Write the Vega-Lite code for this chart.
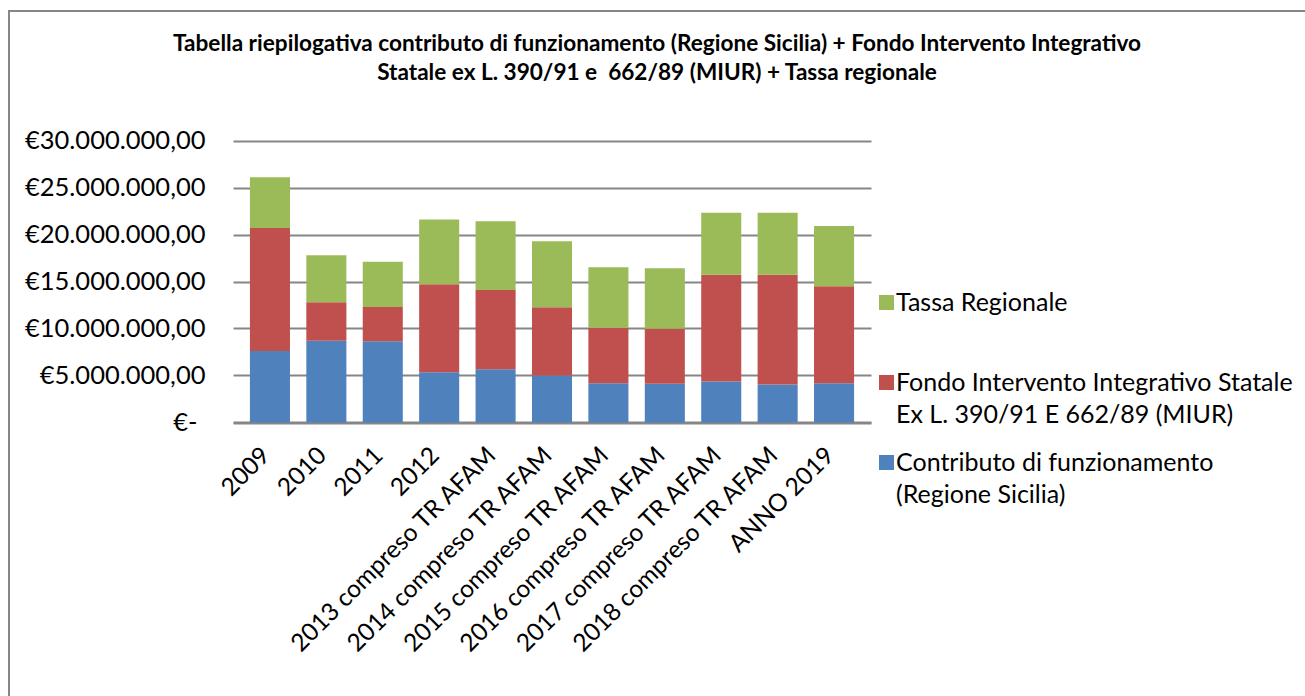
{
  "$schema": "https://vega.github.io/schema/vega-lite/v6.json",
  "width": 1296,
  "height": 685,
  "autosize": {"type": "none"},
  "padding": {"left": 9, "top": 11, "right": 0, "bottom": 0},
  "background": "white",
  "config": {
    "locale": {"number": {"decimal": ",", "thousands": ".", "grouping": [3], "currency": ["€", ""]}},
    "view": {"stroke": "#868686", "strokeWidth": 2, "strokeDash": [1296, 1981, 685]},
    "font": "Lato",
    "style": {"guide-label": {"lineHeight": 32}}
  },
  "title": {
    "text": ["Tabella riepilogativa contributo di funzionamento (Regione Sicilia) + Fondo Intervento Integrativo", "Statale ex L. 390/91 e \u00a0662/89 (MIUR) + Tassa regionale"],
    "anchor": "middle",
    "frame": "group",
    "font": "Lato",
    "fontSize": 22.6,
    "fontWeight": "bold",
    "color": "#000000",
    "lineHeight": 29,
    "offset": -74
  },
  "data": {
    "values": [
      {"anno": "2009", "serie": "Contributo di funzionamento (Regione Sicilia)", "valore": 7600000},
      {"anno": "2009", "serie": "Fondo Intervento Integrativo Statale Ex L. 390/91 E 662/89 (MIUR)", "valore": 13100000},
      {"anno": "2009", "serie": "Tassa Regionale", "valore": 5400000},
      {"anno": "2010", "serie": "Contributo di funzionamento (Regione Sicilia)", "valore": 8700000},
      {"anno": "2010", "serie": "Fondo Intervento Integrativo Statale Ex L. 390/91 E 662/89 (MIUR)", "valore": 4100000},
      {"anno": "2010", "serie": "Tassa Regionale", "valore": 5000000},
      {"anno": "2011", "serie": "Contributo di funzionamento (Regione Sicilia)", "valore": 8650000},
      {"anno": "2011", "serie": "Fondo Intervento Integrativo Statale Ex L. 390/91 E 662/89 (MIUR)", "valore": 3650000},
      {"anno": "2011", "serie": "Tassa Regionale", "valore": 4800000},
      {"anno": "2012", "serie": "Contributo di funzionamento (Regione Sicilia)", "valore": 5350000},
      {"anno": "2012", "serie": "Fondo Intervento Integrativo Statale Ex L. 390/91 E 662/89 (MIUR)", "valore": 9350000},
      {"anno": "2012", "serie": "Tassa Regionale", "valore": 6900000},
      {"anno": "2013 compreso TR AFAM", "serie": "Contributo di funzionamento (Regione Sicilia)", "valore": 5670000},
      {"anno": "2013 compreso TR AFAM", "serie": "Fondo Intervento Integrativo Statale Ex L. 390/91 E 662/89 (MIUR)", "valore": 8430000},
      {"anno": "2013 compreso TR AFAM", "serie": "Tassa Regionale", "valore": 7300000},
      {"anno": "2014 compreso TR AFAM", "serie": "Contributo di funzionamento (Regione Sicilia)", "valore": 5000000},
      {"anno": "2014 compreso TR AFAM", "serie": "Fondo Intervento Integrativo Statale Ex L. 390/91 E 662/89 (MIUR)", "valore": 7270000},
      {"anno": "2014 compreso TR AFAM", "serie": "Tassa Regionale", "valore": 7000000},
      {"anno": "2015 compreso TR AFAM", "serie": "Contributo di funzionamento (Regione Sicilia)", "valore": 4180000},
      {"anno": "2015 compreso TR AFAM", "serie": "Fondo Intervento Integrativo Statale Ex L. 390/91 E 662/89 (MIUR)", "valore": 5890000},
      {"anno": "2015 compreso TR AFAM", "serie": "Tassa Regionale", "valore": 6450000},
      {"anno": "2016 compreso TR AFAM", "serie": "Contributo di funzionamento (Regione Sicilia)", "valore": 4120000},
      {"anno": "2016 compreso TR AFAM", "serie": "Fondo Intervento Integrativo Statale Ex L. 390/91 E 662/89 (MIUR)", "valore": 5850000},
      {"anno": "2016 compreso TR AFAM", "serie": "Tassa Regionale", "valore": 6450000},
      {"anno": "2017 compreso TR AFAM", "serie": "Contributo di funzionamento (Regione Sicilia)", "valore": 4360000},
      {"anno": "2017 compreso TR AFAM", "serie": "Fondo Intervento Integrativo Statale Ex L. 390/91 E 662/89 (MIUR)", "valore": 11350000},
      {"anno": "2017 compreso TR AFAM", "serie": "Tassa Regionale", "valore": 6600000},
      {"anno": "2018 compreso TR AFAM", "serie": "Contributo di funzionamento (Regione Sicilia)", "valore": 4040000},
      {"anno": "2018 compreso TR AFAM", "serie": "Fondo Intervento Integrativo Statale Ex L. 390/91 E 662/89 (MIUR)", "valore": 11670000},
      {"anno": "2018 compreso TR AFAM", "serie": "Tassa Regionale", "valore": 6600000},
      {"anno": "ANNO 2019", "serie": "Contributo di funzionamento (Regione Sicilia)", "valore": 4180000},
      {"anno": "ANNO 2019", "serie": "Fondo Intervento Integrativo Statale Ex L. 390/91 E 662/89 (MIUR)", "valore": 10320000},
      {"anno": "ANNO 2019", "serie": "Tassa Regionale", "valore": 6400000}
    ]
  },
  "mark": {"type": "bar"},
  "encoding": {
    "x": {
      "field": "anno",
      "type": "nominal",
      "sort": null,
      "scale": {"range": [224, 862], "paddingInner": 0.29, "paddingOuter": 0.3},
      "axis": {
        "title": null,
        "offset": -273,
        "labelAngle": -45,
        "labelFont": "Lato",
        "labelFontSize": 24.5,
        "labelColor": "#000000",
        "labelPadding": 20,
        "labelOffset": -12,
        "labelLimit": 400,
        "ticks": false,
        "domain": true,
        "domainColor": "#868686",
        "domainWidth": 2,
        "grid": false
      }
    },
    "y": {
      "field": "valore",
      "type": "quantitative",
      "stack": "zero",
      "scale": {"domain": [-29095745, 43776596], "nice": false, "zero": false},
      "axis": {
        "title": null,
        "values": [0, 5000000, 10000000, 15000000, 20000000, 25000000, 30000000],
        "format": "$,.2f",
        "labelExpr": "datum.value == 0 ? '€-' : datum.label",
        "offset": -196,
        "labelPadding": {"condition": {"test": "datum.value == 0", "value": 8}, "value": 0},
        "labelLimit": 400,
        "ticks": false,
        "tickSize": 0,
        "domain": false,
        "grid": true,
        "gridColor": "#868686",
        "gridWidth": 2,
        "labelFont": "Lato",
        "labelFontSize": 25.5,
        "labelColor": "#000000"
      }
    },
    "color": {
      "field": "serie",
      "type": "nominal",
      "scale": {
        "domain": ["Tassa Regionale", "Fondo Intervento Integrativo Statale Ex L. 390/91 E 662/89 (MIUR)", "Contributo di funzionamento (Regione Sicilia)"],
        "range": ["#9BBB59", "#C0504D", "#4F81BD"]
      },
      "legend": {
        "title": null,
        "orient": "none",
        "legendX": 865,
        "legendY": 279,
        "symbolType": "square",
        "symbolSize": 225,
        "symbolStrokeWidth": 0,
        "labelFont": "Lato",
        "labelFontSize": 25,
        "labelColor": "#000000",
        "labelLimit": 500,
        "labelOffset": -3,
        "gridAlign": "all",
        "rowPadding": 22,
        "labelExpr": "datum.label == 'Fondo Intervento Integrativo Statale Ex L. 390/91 E 662/89 (MIUR)' ? ['Fondo Intervento Integrativo Statale', 'Ex L. 390/91 E 662/89 (MIUR)'] : datum.label == 'Contributo di funzionamento (Regione Sicilia)' ? ['Contributo di funzionamento', '(Regione Sicilia)'] : datum.label"
      }
    },
    "order": {"field": "serie", "sort": "ascending"}
  }
}
